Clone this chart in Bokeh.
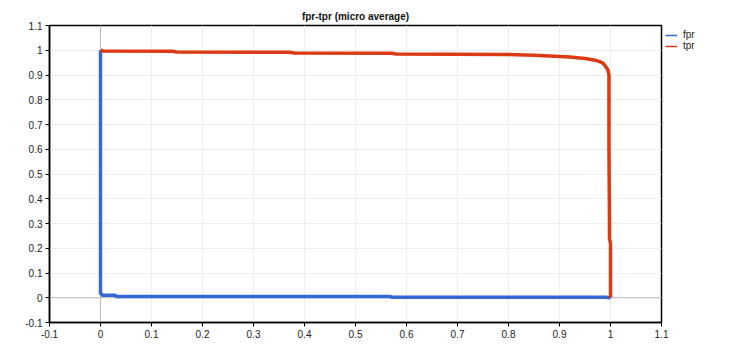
from bokeh.plotting import figure
from bokeh.models import FixedTicker, Span, Legend, LegendItem
from bokeh.embed import file_html
from bokeh.resources import INLINE

# Data
fpr_x = [0.0, 0.0, 0.0, 0.002, 0.004, 0.03, 0.03, 0.57, 0.57, 0.99, 1.0]
fpr_y = [1.0, 0.6, 0.015, 0.015, 0.01, 0.01, 0.005, 0.005, 0.002, 0.002, 0.0]

tpr_x = [0.0, 0.005, 0.14, 0.15, 0.37, 0.38, 0.57, 0.58, 0.80, 0.85, 0.88, 0.92,
         0.95, 0.97, 0.98, 0.986, 0.99, 0.995, 0.997, 0.997, 0.998, 0.998, 1.0, 1.0]
tpr_y = [1.0, 0.997, 0.996, 0.993, 0.992, 0.989, 0.988, 0.985, 0.983, 0.98, 0.977, 0.973,
         0.967, 0.96, 0.953, 0.947, 0.935, 0.92, 0.9, 0.6, 0.3, 0.24, 0.22, 0.0]

tick_values = [-0.1, 0.0, 0.1, 0.2, 0.3, 0.4, 0.5, 0.6, 0.7, 0.8, 0.9, 1.0, 1.1]
tick_labels = ["-0.1", "0", "0.1", "0.2", "0.3", "0.4", "0.5", "0.6", "0.7", "0.8", "0.9", "1", "1.1"]

FONT = "Liberation Sans"
BLUE = "#3468d2"
RED = "#dc3a14"

p = figure(frame_width=612, frame_height=297, x_range=(-0.1, 1.1), y_range=(-0.1, 1.1),
           output_backend="svg", toolbar_location=None,
           min_border_left=49, min_border_right=73, min_border_top=25, min_border_bottom=20)

p.title.text = "fpr-tpr (micro average)"
p.title.align = "center"
p.title.text_font = FONT
p.title.text_font_size = "10px"
p.title.text_font_style = "bold"
p.title.text_color = "#111111"
p.title.standoff = 7
p.title.offset = 0

p.outline_line_color = "black"
p.outline_line_width = 1.5

overrides = {v: l for v, l in zip(tick_values, tick_labels)}
for ax in (p.xaxis[0], p.yaxis[0]):
    ax.ticker = FixedTicker(ticks=tick_values)
    ax.major_label_overrides = overrides
    ax.major_label_text_font = FONT
    ax.major_label_text_font_size = "10px"
    ax.major_label_text_color = "#222222"
    ax.axis_line_color = "black"
    ax.axis_line_width = 1.5
    ax.major_tick_line_color = "black"
    ax.major_tick_in = 0
    ax.major_tick_out = 4
    ax.minor_tick_line_color = None
    ax.major_label_standoff = 3

p.xgrid.grid_line_color = "#eeeeee"
p.ygrid.grid_line_color = "#eeeeee"
p.xgrid.ticker = FixedTicker(ticks=tick_values)
p.ygrid.ticker = FixedTicker(ticks=tick_values)

p.add_layout(Span(location=0, dimension="height", line_color="#bbbbbb", line_width=1, level="underlay"))
p.add_layout(Span(location=0, dimension="width", line_color="#bbbbbb", line_width=1, level="underlay"))

p.line(fpr_x, fpr_y, line_color=BLUE, line_width=3.5)
p.line(tpr_x, tpr_y, line_color=RED, line_width=3.5)

# thin renderers for legend swatches (points lie outside the visible range)
lf = p.line(x=[-5, -4], y=[-5, -5], line_color=BLUE, line_width=1.5)
lt = p.line(x=[-5, -4], y=[-5, -5], line_color=RED, line_width=1.5)

legend = Legend(items=[LegendItem(label="fpr", renderers=[lf]),
                       LegendItem(label="tpr", renderers=[lt])],
                location="top_left", padding=0, margin=4, spacing=0,
                glyph_width=12, glyph_height=10, label_height=10, label_standoff=6,
                label_text_font=FONT, label_text_font_size="10px", label_text_color="#222222",
                border_line_color=None, background_fill_alpha=0)
p.add_layout(legend, "right")

open("out.html", "w").write(file_html(p, INLINE))
